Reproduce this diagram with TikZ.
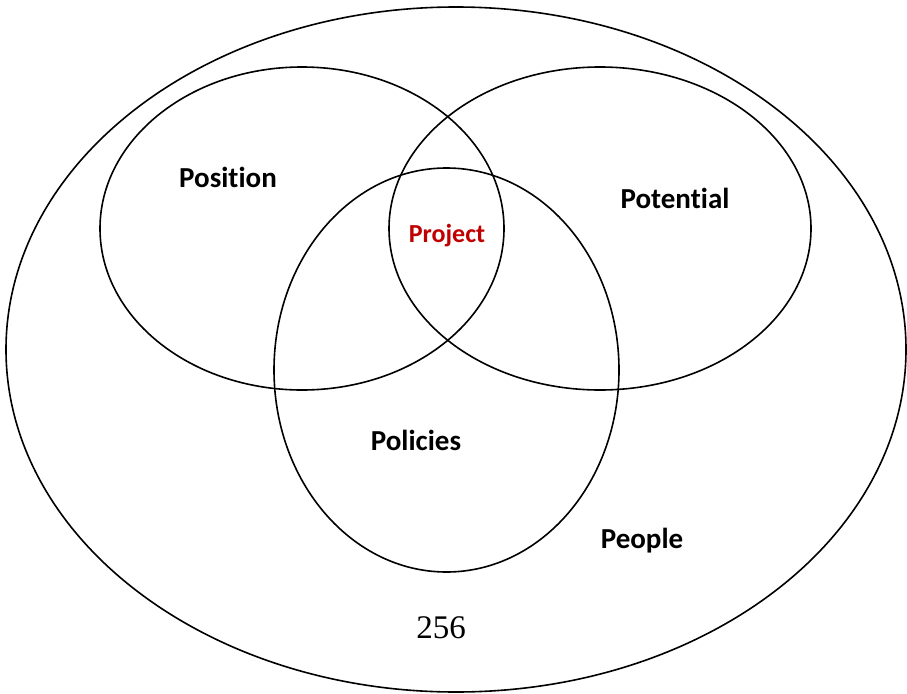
\documentclass[tikz,border=0pt]{standalone}
\usepackage{fontspec}
\setmainfont[Ligatures=NoCommon]{Carlito}
\newfontfamily\serifnum{Liberation Serif}
\definecolor{projred}{RGB}{192,0,0}
\begin{document}
\begin{tikzpicture}[x=1pt,y=-1pt,
  ring/.style={draw=black,line width=1.6pt},
  lbl/.style={font=\bfseries\fontsize{29}{34}\selectfont,text=black,inner sep=0pt}]
\useasboundingbox (0,0) rectangle (907,693);
\draw[ring] (456,349.5) ellipse [x radius=450, y radius=342.5];
\draw[ring] (302,228.5) ellipse [x radius=202, y radius=161.5];
\draw[ring] (600,228.5) ellipse [x radius=211, y radius=161.5];
\draw[ring] (446.5,370) ellipse [x radius=172.5, y radius=202];
\node[lbl] (position) at (228,177) {Position};
\node[lbl] (potential) at (675,198) {Potential};
\node[lbl,text=projred,font=\bfseries\fontsize{26}{30}\selectfont] (project) at (447,236) {Project};
\node[lbl] (policies) at (416,440) {Policies};
\node[lbl] (people) at (642,541) {People};
\node[inner sep=0pt,font=\serifnum\fontsize{33}{38}\selectfont] (page) at (441,628) {256};
\end{tikzpicture}
\end{document}
